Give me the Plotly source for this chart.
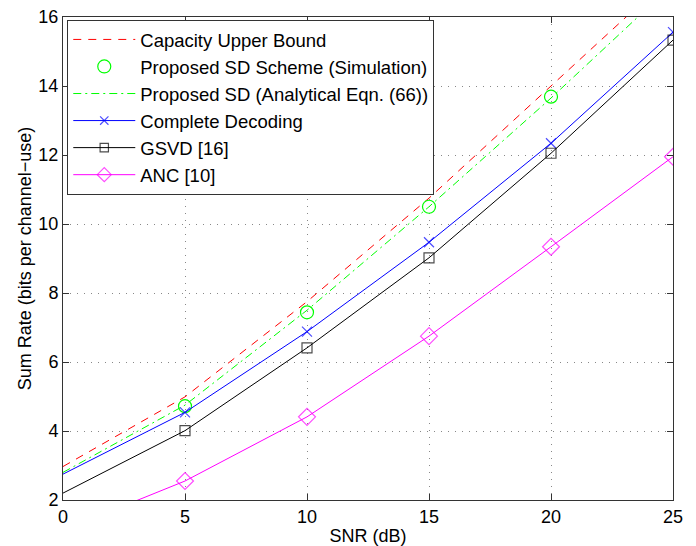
import plotly.graph_objects as go

snr = [0, 5, 10, 15, 20, 25]
snr_sim = [5, 10, 15, 20]

capacity_upper = [2.97, 4.99, 7.75, 10.75, 14.0, 17.25]
sd_sim = [4.72, 7.44, 10.50, 13.69]
sd_analytical = [2.80, 4.75, 7.50, 10.50, 13.65, 16.95]
complete_dec = [2.75, 4.54, 6.88, 9.47, 12.34, 15.56]
gsvd = [2.20, 4.01, 6.41, 9.02, 12.05, 15.33]
anc = [1.12, 2.55, 4.41, 6.75, 9.34, 11.95]

names = ["Capacity Upper Bound", "Proposed SD Scheme (Simulation)",
         "Proposed SD (Analytical Eqn. (66))", "Complete Decoding",
         "GSVD [16]", "ANC [10]"]

msize = [0, 10, 10, 10, 10, 10]

fig = go.Figure()
fig.add_trace(go.Scatter(x=snr, y=capacity_upper, mode="lines", name=names[0],
                         line=dict(color="#ff0000", width=1, dash="8px,7px")))
fig.add_trace(go.Scatter(x=snr_sim, y=sd_sim, mode="markers", name=names[1],
                         marker=dict(symbol="circle-open", size=13, color="#00ff00",
                                     line=dict(width=1.2, color="#00ff00"))))
fig.add_trace(go.Scatter(x=snr, y=sd_analytical, mode="lines", name=names[2],
                         line=dict(color="#00ff00", width=1, dash="8px,4px,2px,4px")))
fig.add_trace(go.Scatter(x=snr, y=complete_dec, mode="lines+markers", name=names[3],
                         line=dict(color="#0000ff", width=1),
                         marker=dict(symbol="x-thin-open", size=msize, color="#0000ff",
                                     line=dict(width=1.2, color="#0000ff"))))
fig.add_trace(go.Scatter(x=snr, y=gsvd, mode="lines+markers", name=names[4],
                         line=dict(color="#000000", width=1),
                         marker=dict(symbol="square-open", size=msize, color="#000000",
                                     line=dict(width=1.2, color="#000000"))))
fig.add_trace(go.Scatter(x=snr, y=anc, mode="lines+markers", name=names[5],
                         line=dict(color="#ff00ff", width=1),
                         marker=dict(symbol="diamond-open", size=[0, 13, 13, 13, 13, 13],
                                     color="#ff00ff", line=dict(width=1.2, color="#ff00ff"))))

axis_common = dict(showline=True, linecolor="#333333", linewidth=1, mirror="ticks",
                   ticks="inside", ticklen=6, tickcolor="#333333", automargin=False,
                   showgrid=True, gridcolor="#888888", griddash="1px,6px", gridwidth=1,
                   zeroline=False, tickfont=dict(size=18, color="#000000"))

fig.update_xaxes(range=[0, 25], tickvals=[0, 5, 10, 15, 20, 25],
                 title=dict(text="SNR (dB)", font=dict(size=18, color="#000000"), standoff=3),
                 **axis_common)
fig.update_yaxes(range=[2, 16], tickvals=[2, 4, 6, 8, 10, 12, 14, 16],
                 title=dict(text="Sum Rate (bits per channel\u2212use)",
                            font=dict(size=18, color="#000000"), standoff=2),
                 **axis_common)

fig.update_layout(
    width=696, height=546,
    margin=dict(l=63, r=23, t=17, b=46),
    paper_bgcolor="white", plot_bgcolor="white",
    font=dict(family="Liberation Sans, Arial, sans-serif", size=18, color="#000000"),
    showlegend=True,
    legend=dict(x=0.007, y=0.994, xanchor="left", yanchor="top",
                bgcolor="white", bordercolor="#333333", borderwidth=1,
                font=dict(size=18.5, color="#000000"), itemwidth=62),
)

fig.write_html("out.html")
